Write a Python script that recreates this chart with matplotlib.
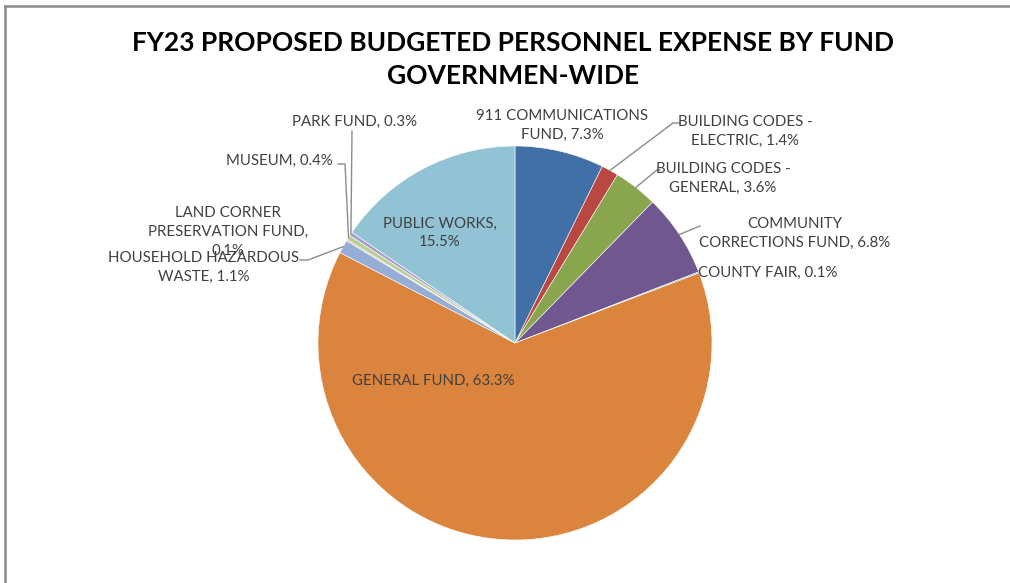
import numpy as np
import matplotlib
matplotlib.use('Agg')
import matplotlib.pyplot as plt
from matplotlib.lines import Line2D

# Fund shares of personnel expense (percent), clockwise from 12 o'clock
funds = ['911 COMMUNICATIONS FUND', 'BUILDING CODES - ELECTRIC', 'BUILDING CODES - GENERAL',
         'COMMUNITY CORRECTIONS FUND', 'COUNTY FAIR', 'GENERAL FUND',
         'HOUSEHOLD HAZARDOUS WASTE', 'LAND CORNER PRESERVATION FUND', 'MUSEUM',
         'PARK FUND', 'PUBLIC WORKS']
shares = [7.3, 1.4, 3.6, 6.8, 0.1, 63.3, 1.1, 0.1, 0.4, 0.3, 15.5]

# label text with line breaks, value filled in below
label_fmt = ['911 COMMUNICATIONS\nFUND, {}%', 'BUILDING CODES -\nELECTRIC, {}%',
             'BUILDING CODES -\nGENERAL, {}%', 'COMMUNITY\nCORRECTIONS FUND, {}%',
             'COUNTY FAIR, {}%', 'GENERAL FUND, {}%', 'HOUSEHOLD HAZARDOUS\nWASTE, {}%',
             'LAND CORNER\nPRESERVATION FUND,\n{}%', 'MUSEUM, {}%', 'PARK FUND, {}%',
             'PUBLIC WORKS,\n{}%']

colors = ['#4170A6', '#B94742', '#89A64E', '#70578F', '#4AA9C4', '#DB843D',
          '#96ADD6', '#E0A0A0', '#B8D09A', '#AA9CC8', '#92C3D5']

# Layout (pixels from top-left)
#####################################################
W, H = 1010, 583
cx, cy, rad = 515, 343, 197

# label centre, and leader path (None = no leader)
lab_xy = [(562, 125), (745, 131), (723, 178), (795, 233), (768, 273), (433, 381),
          (204, 267), (228, 232), (279, 161), (354, 122), (440, 233)]
leaders = [None, [(673, 123), (680, 123)], [(657, 170), (660, 170)], [(700, 226)],
           None, None, [(308, 260), (300, 260)], None,
           [(345, 164), (338, 164)], [(352, 131)], None]

font = 'Lato'
txt_col = '#404040'


def fy(y):
    return H - y


fig = plt.figure(figsize=(W / 100, H / 100), dpi=100)
ax = fig.add_axes([0, 0, 1, 1])

ax.pie(shares, colors=colors, startangle=90, counterclock=False,
       radius=rad, center=(cx, fy(cy)),
       wedgeprops=dict(edgecolor='white', linewidth=0.4))
ax.set_xlim(0, W)
ax.set_ylim(0, H)
ax.set_aspect('equal')
ax.axis('off')

# wedge mid angles (degrees clockwise from top)
cum = np.cumsum([0] + shares[:-1])
mid = (cum + np.array(shares) / 2) / sum(shares) * 360.0

for i, name in enumerate(funds):
    txt = label_fmt[i].format(shares[i])
    x, y = lab_xy[i]
    ax.text(x, fy(y), txt, ha='center', va='center', multialignment='center',
            fontsize=10.8, family=font, color=txt_col, linespacing=1.45)
    if leaders[i] is not None:
        a = np.deg2rad(mid[i])
        ex = cx + rad * np.sin(a)
        ey = cy - rad * np.cos(a)
        pts = [(ex, ey)] + leaders[i]
        ax.plot([p[0] for p in pts], [fy(p[1]) for p in pts],
                color='#8C8C8C', lw=1.0)

# Title
fig.text(513 / W, 1 - 43 / H, 'FY23 PROPOSED BUDGETED PERSONNEL EXPENSE BY FUND',
         ha='center', va='center', fontsize=19, fontweight='bold', family=font, color='black')
fig.text(513 / W, 1 - 76 / H, 'GOVERNMEN-WIDE',
         ha='center', va='center', fontsize=19, fontweight='bold', family=font, color='black')

# frame edges (top and left only)
fig.add_artist(Line2D([5 / W, 1], [1 - 6 / H, 1 - 6 / H], color='#8A8A8A', lw=1.8))
fig.add_artist(Line2D([5 / W, 5 / W], [0, 1 - 6 / H], color='#8A8A8A', lw=1.8))

fig.savefig('out.png', dpi=100, facecolor='white')
